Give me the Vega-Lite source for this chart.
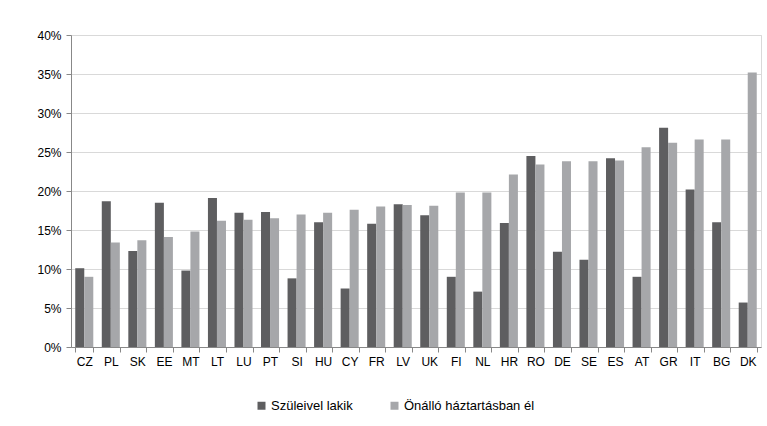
{
  "$schema": "https://vega.github.io/schema/vega-lite/v6.json",
  "width": 690,
  "height": 312,
  "autosize": {"type": "none"},
  "padding": {"left": 71, "top": 35, "right": 6, "bottom": 79},
  "background": "#ffffff",
  "config": {
    "font": "Liberation Sans",
    "view": {"stroke": "#d9d9d9"},
    "axis": {"labelFont": "Liberation Sans", "labelColor": "#000000", "labelFontSize": 12}
  },
  "data": {
    "values": [
      {"country": "CZ", "series": "Szüleivel lakik", "value": 10.1},
      {"country": "CZ", "series": "Önálló háztartásban  él", "value": 9.0},
      {"country": "PL", "series": "Szüleivel lakik", "value": 18.7},
      {"country": "PL", "series": "Önálló háztartásban  él", "value": 13.4},
      {"country": "SK", "series": "Szüleivel lakik", "value": 12.3},
      {"country": "SK", "series": "Önálló háztartásban  él", "value": 13.7},
      {"country": "EE", "series": "Szüleivel lakik", "value": 18.5},
      {"country": "EE", "series": "Önálló háztartásban  él", "value": 14.1},
      {"country": "MT", "series": "Szüleivel lakik", "value": 9.8},
      {"country": "MT", "series": "Önálló háztartásban  él", "value": 14.8},
      {"country": "LT", "series": "Szüleivel lakik", "value": 19.1},
      {"country": "LT", "series": "Önálló háztartásban  él", "value": 16.2},
      {"country": "LU", "series": "Szüleivel lakik", "value": 17.2},
      {"country": "LU", "series": "Önálló háztartásban  él", "value": 16.3},
      {"country": "PT", "series": "Szüleivel lakik", "value": 17.3},
      {"country": "PT", "series": "Önálló háztartásban  él", "value": 16.5},
      {"country": "SI", "series": "Szüleivel lakik", "value": 8.8},
      {"country": "SI", "series": "Önálló háztartásban  él", "value": 17.0},
      {"country": "HU", "series": "Szüleivel lakik", "value": 16.0},
      {"country": "HU", "series": "Önálló háztartásban  él", "value": 17.2},
      {"country": "CY", "series": "Szüleivel lakik", "value": 7.5},
      {"country": "CY", "series": "Önálló háztartásban  él", "value": 17.6},
      {"country": "FR", "series": "Szüleivel lakik", "value": 15.8},
      {"country": "FR", "series": "Önálló háztartásban  él", "value": 18.0},
      {"country": "LV", "series": "Szüleivel lakik", "value": 18.3},
      {"country": "LV", "series": "Önálló háztartásban  él", "value": 18.2},
      {"country": "UK", "series": "Szüleivel lakik", "value": 16.9},
      {"country": "UK", "series": "Önálló háztartásban  él", "value": 18.1},
      {"country": "FI", "series": "Szüleivel lakik", "value": 9.0},
      {"country": "FI", "series": "Önálló háztartásban  él", "value": 19.8},
      {"country": "NL", "series": "Szüleivel lakik", "value": 7.1},
      {"country": "NL", "series": "Önálló háztartásban  él", "value": 19.8},
      {"country": "HR", "series": "Szüleivel lakik", "value": 15.9},
      {"country": "HR", "series": "Önálló háztartásban  él", "value": 22.1},
      {"country": "RO", "series": "Szüleivel lakik", "value": 24.5},
      {"country": "RO", "series": "Önálló háztartásban  él", "value": 23.4},
      {"country": "DE", "series": "Szüleivel lakik", "value": 12.2},
      {"country": "DE", "series": "Önálló háztartásban  él", "value": 23.8},
      {"country": "SE", "series": "Szüleivel lakik", "value": 11.2},
      {"country": "SE", "series": "Önálló háztartásban  él", "value": 23.8},
      {"country": "ES", "series": "Szüleivel lakik", "value": 24.2},
      {"country": "ES", "series": "Önálló háztartásban  él", "value": 23.9},
      {"country": "AT", "series": "Szüleivel lakik", "value": 9.0},
      {"country": "AT", "series": "Önálló háztartásban  él", "value": 25.6},
      {"country": "GR", "series": "Szüleivel lakik", "value": 28.1},
      {"country": "GR", "series": "Önálló háztartásban  él", "value": 26.2},
      {"country": "IT", "series": "Szüleivel lakik", "value": 20.2},
      {"country": "IT", "series": "Önálló háztartásban  él", "value": 26.6},
      {"country": "BG", "series": "Szüleivel lakik", "value": 16.0},
      {"country": "BG", "series": "Önálló háztartásban  él", "value": 26.6},
      {"country": "DK", "series": "Szüleivel lakik", "value": 5.7},
      {"country": "DK", "series": "Önálló háztartásban  él", "value": 35.2}
    ]
  },
  "mark": {"type": "bar"},
  "encoding": {
    "x": {
      "field": "country",
      "type": "nominal",
      "sort": null,
      "scale": {"paddingInner": 0.32, "paddingOuter": 0.16},
      "axis": {
        "title": null,
        "labelAngle": 0,
        "tickBand": "extent",
        "tickColor": "#888888",
        "domainColor": "#888888",
        "tickSize": 5,
        "labelPadding": 4
      }
    },
    "xOffset": {"field": "series", "type": "nominal", "sort": ["Szüleivel lakik", "Önálló háztartásban  él"], "scale": {"paddingInner": 0, "paddingOuter": 0}},
    "y": {
      "field": "value",
      "type": "quantitative",
      "scale": {"domain": [0, 40], "nice": false},
      "axis": {
        "title": null,
        "values": [0, 5, 10, 15, 20, 25, 30, 35, 40],
        "labelExpr": "datum.value + '%'",
        "gridColor": "#d9d9d9",
        "domainColor": "#888888",
        "tickColor": "#888888",
        "tickSize": 5,
        "labelPadding": 5
      }
    },
    "color": {
      "field": "series",
      "type": "nominal",
      "sort": ["Szüleivel lakik", "Önálló háztartásban  él"],
      "scale": {"domain": ["Szüleivel lakik", "Önálló háztartásban  él"], "range": ["#5e5e60", "#a6a7aa"]},
      "legend": {
        "title": null,
        "orient": "none",
        "direction": "horizontal",
        "legendX": 184,
        "legendY": 364,
        "symbolType": "square",
        "symbolSize": 64,
        "symbolStrokeWidth": 0,
        "labelFontSize": 13,
        "labelFont": "Liberation Sans",
        "labelColor": "#000000",
        "labelOffset": 3,
        "columnPadding": 35
      }
    }
  }
}
